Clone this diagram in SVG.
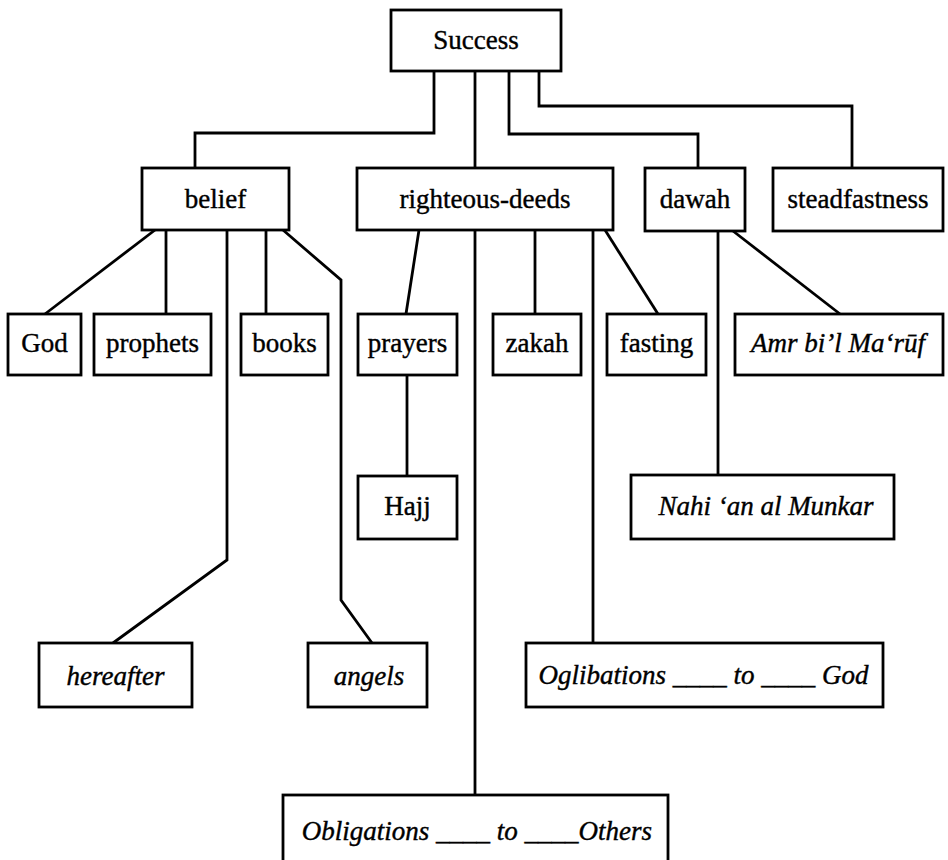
<svg xmlns="http://www.w3.org/2000/svg" width="948" height="860" viewBox="0 0 948 860">
<style>
rect{fill:#fff;stroke:#000;stroke-width:2.8}
text{font-family:"Liberation Serif","Times New Roman",serif;font-size:27px;text-anchor:middle;fill:#000;stroke:#000;stroke-width:0.4}
.i{font-style:italic}
#connectors path{fill:none;stroke:#000;stroke-width:2.8;stroke-linejoin:miter}
</style>
<rect x="0" y="0" width="948" height="860" style="fill:#fff;stroke:none"/>
<g id="connectors">
<path d="M434,71 V133 H195 V168"/>
<path d="M475,71 V168"/>
<path d="M509,71 V134 H698 V168"/>
<path d="M539,71 V106 H852 V168"/>
<path d="M155,230 L45,314"/>
<path d="M166,230 V314"/>
<path d="M227,230 V560 L113,643"/>
<path d="M266,230 V314"/>
<path d="M283,230 L341,280 V600 L372,643"/>
<path d="M419,230 L406,314"/>
<path d="M407,375 V476"/>
<path d="M475,230 V795"/>
<path d="M535,230 V314"/>
<path d="M593,230 V643"/>
<path d="M605,230 L658,314"/>
<path d="M718,231 V475"/>
<path d="M733,231 L840,314"/>
</g>
<g id="success"><rect x="391" y="10" width="170" height="61"/><text x="476" y="49">Success</text></g>
<g id="belief"><rect x="142" y="168" width="147" height="62"/><text x="215.5" y="208">belief</text></g>
<g id="righteous-deeds"><rect x="357" y="168" width="256" height="62"/><text x="485" y="208">righteous-deeds</text></g>
<g id="dawah"><rect x="645" y="168" width="100" height="63"/><text x="695" y="208">dawah</text></g>
<g id="steadfastness"><rect x="773" y="168" width="170" height="63"/><text x="858" y="208">steadfastness</text></g>
<g id="god"><rect x="8" y="314" width="73" height="61"/><text x="44.5" y="352">God</text></g>
<g id="prophets"><rect x="94" y="314" width="117" height="61"/><text x="152.5" y="352">prophets</text></g>
<g id="books"><rect x="241" y="314" width="87" height="61"/><text x="284.5" y="352">books</text></g>
<g id="prayers"><rect x="358" y="314" width="99" height="61"/><text x="407.5" y="352">prayers</text></g>
<g id="zakah"><rect x="493" y="314" width="88" height="61"/><text x="537" y="352">zakah</text></g>
<g id="fasting"><rect x="607" y="314" width="99" height="61"/><text x="656.5" y="352">fasting</text></g>
<g id="amr"><rect x="735" y="314" width="208" height="61"/><text class="i" x="838" y="352">Amr bi’l Ma‘rūf</text></g>
<g id="hajj"><rect x="358" y="476" width="99" height="63"/><text x="407.5" y="515">Hajj</text></g>
<g id="nahi"><rect x="631" y="475" width="263" height="64"/><text class="i" x="766" y="515">Nahi ‘an al Munkar</text></g>
<g id="hereafter"><rect x="39" y="643" width="153" height="64"/><text class="i" x="115.5" y="685">hereafter</text></g>
<g id="angels"><rect x="308" y="643" width="119" height="64"/><text class="i" x="369" y="685">angels</text></g>
<g id="oglibations"><rect x="526" y="643" width="357" height="64"/><text class="i" x="703.5" y="684">Oglibations ____ to ____ God</text></g>
<g id="obligations"><rect x="283" y="795" width="385" height="80"/><text class="i" x="477" y="840">Obligations ____ to ____Others</text></g>
</svg>
